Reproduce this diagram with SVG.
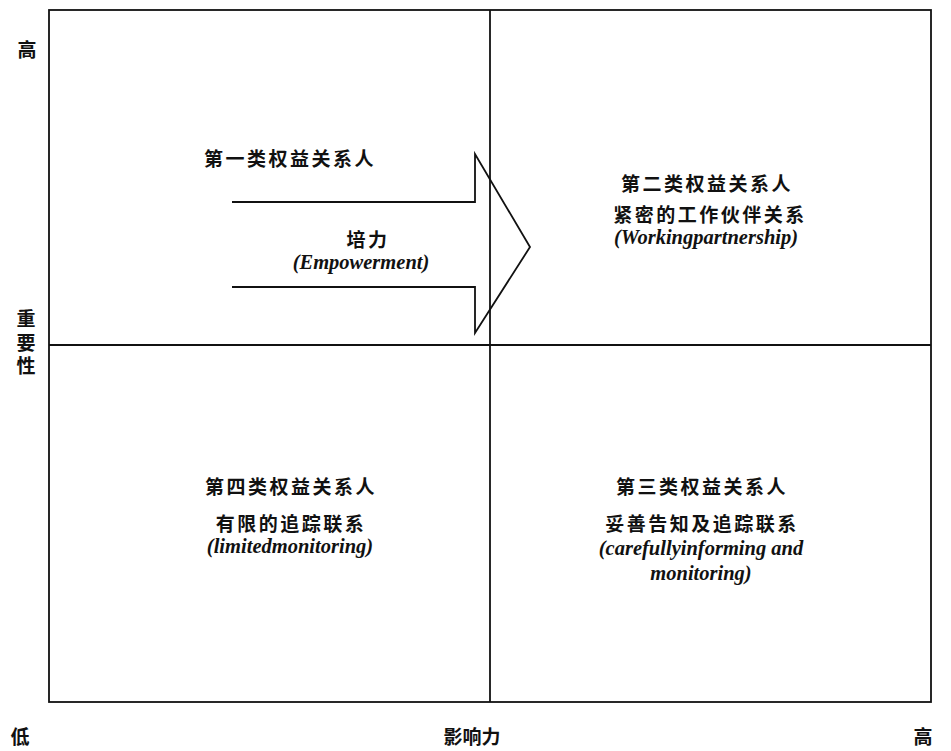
<svg xmlns="http://www.w3.org/2000/svg" width="951" height="751" viewBox="0 0 951 751">
<style>
.cn{font-family:"Noto Sans CJK SC","Noto Sans CJK TC",sans-serif;font-weight:700;font-size:19px;fill:#111;letter-spacing:2.5px;text-anchor:middle;dominant-baseline:central}
.en{font-family:"Liberation Serif",serif;font-weight:700;font-style:italic;font-size:20.5px;fill:#111;text-anchor:middle;dominant-baseline:central}
.ax{font-family:"Noto Sans CJK SC","Noto Sans CJK TC",sans-serif;font-weight:700;font-size:19px;fill:#111;text-anchor:middle;dominant-baseline:central}
.ln{stroke:#111;stroke-width:1.8;fill:none}
</style>
<rect width="951" height="751" fill="#fff"/>
<g id="grid">
<rect class="ln" x="49" y="10" width="882" height="692" stroke-width="2.2"/>
<line class="ln" x1="490" y1="10" x2="490" y2="702"/>
<line class="ln" x1="49" y1="345" x2="931" y2="345"/>
</g>
<g id="connectors">
<path id="arrow" class="ln" d="M232,202 H475 V154 L530,247 L475,333 V287 H232"/>
</g>
<g id="q1">
<text class="cn" x="290" y="157">第一类权益关系人</text>
<text class="cn" x="368" y="238">培力</text>
<text class="en" x="361" y="262">(Empowerment)</text>
</g>
<g id="q2">
<text class="cn" x="707" y="182">第二类权益关系人</text>
<text class="cn" x="710" y="213">紧密的工作伙伴关系</text>
<text class="en" x="706" y="237">(Workingpartnership)</text>
</g>
<g id="q4">
<text class="cn" x="291" y="485">第四类权益关系人</text>
<text class="cn" x="291" y="522">有限的追踪联系</text>
<text class="en" x="290" y="546">(limitedmonitoring)</text>
</g>
<g id="q3">
<text class="cn" x="702" y="485">第三类权益关系人</text>
<text class="cn" x="702" y="522">妥善告知及追踪联系</text>
<text class="en" x="701" y="548">(carefullyinforming and</text>
<text class="en" x="701" y="573">monitoring)</text>
</g>
<g id="axes">
<text class="ax" x="27" y="48">高</text>
<text class="ax" x="26" y="345" writing-mode="vertical-rl" style="letter-spacing:4.5px">重要性</text>
<text class="ax" x="20" y="735">低</text>
<text class="ax" x="472" y="735">影响力</text>
<text class="ax" x="923" y="735">高</text>
</g>
</svg>
